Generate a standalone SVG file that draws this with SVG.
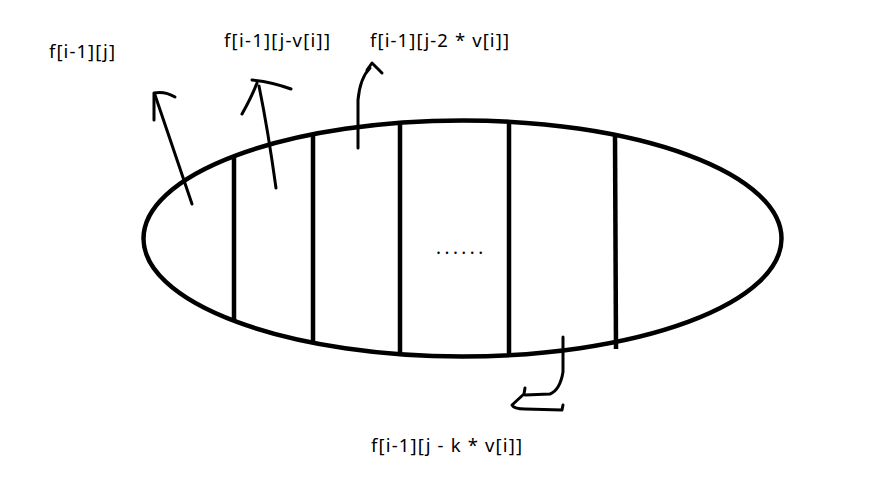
<svg xmlns="http://www.w3.org/2000/svg" width="875" height="486" viewBox="0 0 875 486">
<style>
.shape{fill:none;stroke:#000;stroke-width:4.5;stroke-linecap:round;stroke-linejoin:round}
.div{stroke:#000;stroke-width:4.5;stroke-linecap:butt}
.arr{fill:none;stroke:#000;stroke-width:3;stroke-linecap:round;stroke-linejoin:round}
.lbl{font-family:"Noto Sans","Liberation Sans",sans-serif;font-size:18.5px;fill:#000}
</style>
<rect width="875" height="486" fill="#fff"/>
<g id="ellipse">
<ellipse class="shape" cx="462.5" cy="238.5" rx="319" ry="118"/>
</g>
<g id="dividers">
<line class="div" x1="234" y1="157" x2="234" y2="322"/>
<line class="div" x1="313" y1="136" x2="313" y2="344"/>
<line class="div" x1="400" y1="122" x2="400" y2="353"/>
<line class="div" x1="509" y1="121" x2="509" y2="356"/>
<line class="div" x1="615" y1="135" x2="616" y2="349"/>
</g>
<g id="dots">
<text class="lbl" x="436" y="254" font-size="16" letter-spacing="3.5">......</text>
</g>
<g id="connectors">
<path class="arr" d="M192,204 L155,95"/>
<path class="arr" d="M175,97 Q165,91 154,93 L154,120"/>
<path class="arr" d="M276,188 Q268,130 259,86"/>
<path class="arr" d="M242,114 Q252,96 257,83"/>
<path class="arr" d="M252,80 Q272,82 291,89"/>
<path class="arr" d="M358,148 L358,100 Q360,78 370,68"/>
<path class="arr" d="M367,70 L372,63 L382,73" stroke-width="4"/>
<path class="arr" d="M563,337 L563,372 Q560,390 550,394 L525,395"/>
<path class="arr" d="M525,388 L524,394 L512,405 Q514,409 525,409 L562,410 L563,405"/>
</g>
<g id="labels">
<text class="lbl" x="49" y="58" textLength="66" lengthAdjust="spacing">f[i-1][j]</text>
<text class="lbl" x="224" y="47" textLength="106" lengthAdjust="spacing">f[i-1][j-v[i]]</text>
<text class="lbl" x="370" y="47" textLength="139" lengthAdjust="spacing">f[i-1][j-2 * v[i]]</text>
<text class="lbl" x="371" y="452" textLength="151" lengthAdjust="spacing">f[i-1][j - k * v[i]]</text>
</g>
</svg>
